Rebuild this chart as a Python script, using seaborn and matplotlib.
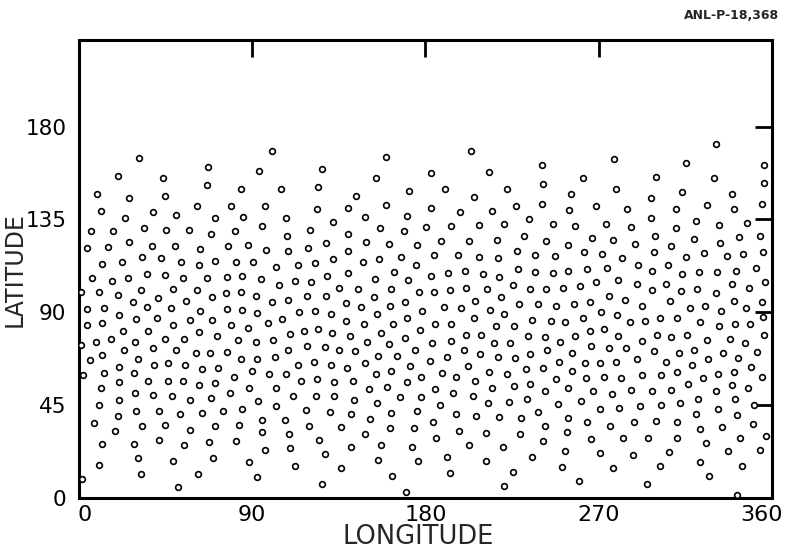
import numpy as np
import pandas as pd
import matplotlib
matplotlib.use("Agg")
import matplotlib.pyplot as plt
import matplotlib.transforms as mtransforms
import seaborn as sns

# ---- data: (longitude, latitude) ----
band_0_90 = [
    (31.2,164.9),(66.9,160.5),(20.3,155.9),(43.8,154.9),(66.4,151.7),(84.3,149.6),(9.3,147.5),(26.2,145.3),(44.7,146.4),(61.2,141.6),(78.8,141.7),(11.4,139.0),(24.1,135.9),(38.4,138.4),(50.3,137.2),(70.9,135.5),(85.3,136.1),(6.2,129.2),(17.9,129.2),(34.0,130.8),(45.3,129.7),(57.1,129.8),(68.8,127.9),(80.9,129.4),(4.3,121.0),(15.0,121.8),(26.0,123.9),(37.8,122.1),(49.8,122.3),(62.9,120.8),(77.2,122.1),(87.8,122.6),(32.6,116.8),(42.4,116.3),
    (11.9,113.6),(22.6,114.6),(52.9,114.4),(62.6,113.0),(70.9,114.9),(81.4,114.4),(6.7,106.8),(17.1,105.4),(25.7,106.8),(35.3,108.8),(44.5,108.3),(54.1,106.5),(66.7,106.7),(76.9,107.2),(84.8,107.8),(1.0,99.8),(10.5,99.8),(20.2,98.5),(32.4,100.7),(40.9,97.0),(49.0,101.1),(61.2,100.9),(69.3,97.5),(76.4,99.3),(84.0,99.8),(4.3,91.4),(13.1,92.2),(27.9,94.9),(35.5,92.4),(47.9,92.1),(55.5,95.3),(63.1,90.6),(76.7,91.4),(84.7,91.1),(4.3,83.7),(11.7,84.6),(21.0,88.8),(29.7,86.9),(40.3,87.4),(48.8,83.9),(57.6,86.1),(69.3,86.3),(79.1,83.7),(87.9,82.4),(23.1,80.8),(36.0,80.8),(62.4,80.5),(71.6,78.6),(0.9,74.4),(9.0,75.7),(16.4,77.0),(29.3,75.8),(44.8,77.1),(54.3,77.3),(82.6,76.6),(12.2,69.4),(23.4,71.5),(38.4,72.8),(50.5,71.5),(60.9,70.5),(68.1,70.4),(76.9,70.7),(5.5,66.7),(30.7,67.5),(84.3,67.5),(20.7,63.4),(38.8,64.4),(46.4,65.2),(55.2,64.7),(63.8,62.6),(72.2,63.0),(1.9,59.6),(12.8,60.4),(28.6,60.7),(80.5,58.6),
    (11.4,53.1),(20.9,56.0),(35.9,56.5),(46.5,56.5),(54.0,56.5),(62.1,54.6),(70.5,55.7),(88.1,53.5),(20.7,47.7),(29.0,50.9),(38.3,49.8),(48.1,49.6),(57.9,47.4),(68.4,48.5),(78.4,50.7),(10.2,45.1),(20.5,39.8),(29.8,42.2),(41.5,42.4),(52.4,40.6),(63.8,41.1),(74.7,42.0),(84.5,43.2),(7.8,36.3),(18.8,32.6),(32.8,34.8),(44.7,35.6),(57.9,33.2),(70.5,35.0),(82.9,35.5),(11.7,26.0),(28.4,26.4),(41.5,28.1),(54.5,25.5),(67.8,27.1),(81.5,27.7),(10.3,16.0),(30.5,19.5),(48.6,18.1),(69.7,19.4),(88.4,17.4),(32.4,11.7),(61.7,11.7),(1.6,9.1),(51.5,5.4),
]

band_90_180 = [
    (100.5,168.4),(159.7,165.1),(93.6,158.5),(126.4,159.3),(154.1,154.9),(105.2,149.9),(124.0,150.9),(171.7,148.8),(144.1,146.2),(96.6,141.3),(123.6,140.1),(139.8,140.6),(159.3,141.9),(107.4,135.8),(148.6,136.4),(170.2,136.8),(95.0,131.6),(132.1,133.9),(120.0,129.8),(108.1,127.1),(139.8,128.2),(156.5,131.1),(168.6,129.4),(97.2,120.0),(108.4,119.5),(118.8,121.2),(128.4,123.7),(140.0,119.7),(149.1,124.2),(161.0,123.2),(175.7,122.4),(131.9,116.0),(155.9,116.0),(167.1,116.7),
    (90.2,114.2),(102.2,112.0),(113.6,112.8),(122.8,113.9),(147.4,114.4),(175.2,113.1),(94.5,106.2),(104.0,103.2),(112.4,105.1),(120.5,104.8),(129.0,107.8),(139.8,109.3),(154.0,106.2),(163.4,109.6),(171.0,105.9),(91.9,97.8),(100.5,94.8),(108.6,95.9),(118.4,97.7),(128.3,97.8),(135.0,101.9),(144.8,101.4),(153.3,97.2),(162.2,101.5),(176.4,99.8),(92.4,89.8),(98.4,85.0),(105.3,86.7),(114.1,90.0),(122.6,90.6),(130.9,89.0),(138.8,94.3),(146.4,92.4),(155.0,89.2),(161.6,93.0),(169.3,95.0),(178.1,90.6),(109.5,79.5),(116.9,81.0),(124.2,81.8),(131.7,80.0),(138.5,86.0),(140.9,78.5),(148.3,84.3),(157.1,80.2),(163.1,84.5),(170.5,87.2),(176.9,81.4),(92.1,75.6),(101.0,76.8),(108.6,71.6),(118.4,73.7),(127.8,73.1),(135.2,71.6),(143.3,71.3),(149.8,75.8),(161.0,74.7),(169.5,77.7),(174.8,71.6),(92.4,67.6),(101.7,68.2),(113.6,64.4),(122.1,65.8),(130.7,64.7),(139.3,63.1),(148.4,65.2),(155.5,68.9),(165.3,68.9),(172.2,64.1),(89.7,61.5),(98.6,60.1),(107.4,60.1),(123.9,57.8),(154.3,60.2),(162.2,61.4),(177.7,58.6),
    (102.2,53.1),(115.3,56.5),(132.6,56.2),(142.4,56.5),(150.5,52.7),(160.2,53.8),(170.2,56.0),(93.0,47.0),(111.0,49.6),(123.0,49.4),(132.6,49.4),(143.0,47.7),(154.7,46.1),(166.6,49.1),(177.6,49.0),(102.4,44.8),(117.8,42.7),(130.3,41.7),(141.2,40.6),(151.0,38.2),(162.1,41.4),(175.5,42.4),(95.0,38.0),(107.2,37.9),(119.3,35.1),(135.9,34.3),(161.5,33.7),(173.9,33.8),(95.0,31.8),(108.9,31.0),(148.6,30.8),(124.6,28.1),(96.4,23.4),(109.6,24.2),(127.6,21.1),(141.4,24.7),(156.9,25.8),(172.9,24.7),(112.4,15.7),(136.0,14.4),(155.3,18.4),(175.9,17.8),(92.4,10.2),(126.0,7.0),(162.4,10.5),(170.0,3.1),
]

band_180_270 = [
    (203.9,168.1),(240.7,161.5),(182.7,157.5),(212.9,158.0),(262.0,155.1),(190.3,149.6),(222.1,149.9),(240.8,152.3),(205.3,145.9),(255.8,147.4),(183.1,140.4),(197.9,138.7),(214.6,139.3),(226.9,141.6),(240.7,142.4),(254.8,139.6),(180.2,131.4),(193.3,131.6),(207.9,132.1),(221.0,132.7),(233.9,135.0),(246.4,132.9),(257.9,131.6),(188.3,124.7),(202.4,124.4),(217.2,124.9),(231.0,126.9),(242.4,124.7),(253.8,122.4),(266.4,126.1),(184.3,117.8),(196.9,117.8),(207.7,116.8),(217.7,116.2),(227.4,119.9),(237.1,117.6),(247.4,117.5),(262.4,119.1),
    (228.3,111.2),(237.1,109.6),(246.4,109.1),(254.3,110.2),(263.8,110.9),(183.1,107.8),(191.9,109.3),(200.7,110.2),(209.8,108.8),(218.3,107.2),(225.7,103.3),(234.3,101.1),(242.4,101.5),(251.2,101.9),(260.5,102.8),(184.6,99.9),(192.9,100.7),(201.2,102.0),(211.9,101.4),(219.3,97.3),(205.7,95.6),(228.6,94.1),(238.4,93.8),(247.9,93.3),(257.2,94.1),(265.3,94.9),(189.8,92.7),(198.3,92.1),(213.6,91.3),(221.0,89.0),(205.2,87.4),(235.2,86.4),(245.0,86.0),(252.6,85.3),(261.9,87.4),(184.8,84.3),(193.4,84.3),(216.7,83.2),(226.2,83.2),(201.2,79.2),(209.1,79.2),(233.3,78.7),(242.1,78.2),(249.8,75.6),(257.9,78.5),(265.5,80.8),(183.4,75.0),(193.4,76.3),(215.7,75.0),(224.1,75.3),(266.0,73.5),(200.0,71.8),(208.1,69.9),(217.6,68.4),(226.5,67.8),(234.3,69.7),(242.9,71.5),(256.0,70.5),(182.1,66.5),(191.2,68.2),(202.2,63.8),(213.1,60.9),(222.6,60.1),(232.4,62.6),(240.8,63.0),(249.5,65.8),(256.0,61.4),(263.1,65.2),(188.4,60.7),(195.7,58.6),(247.6,57.9),(263.4,58.4),
    (185.2,52.7),(194.5,50.7),(205.7,56.5),(214.6,53.3),(226.2,54.3),(234.1,55.2),(254.3,53.3),(267.2,51.7),(242.1,52.0),(187.6,44.9),(204.6,49.3),(212.7,46.1),(223.3,46.5),(232.9,48.2),(248.8,45.6),(260.8,47.0),(196.0,40.9),(206.5,39.8),(218.3,39.5),(229.5,38.8),(238.6,41.9),(254.1,39.0),(263.9,36.7),(184.0,36.6),(197.6,32.6),(211.7,31.6),(229.3,31.1),(242.1,34.8),(253.6,32.2),(265.8,28.7),(185.3,29.2),(202.7,25.6),(220.5,24.8),(240.8,27.7),(252.7,22.9),(191.4,19.9),(211.4,17.8),(235.5,20.0),(192.6,12.0),(225.3,12.6),(250.8,15.2),(260.0,8.4),(221.0,5.7),
]

band_270_360 = [
    (330.7,171.5),(277.8,164.1),(315.4,162.2),(355.7,161.2),(299.7,155.7),(329.8,155.1),(279.2,149.8),(313.5,148.3),(339.5,147.4),(355.9,152.7),(297.3,145.6),(268.8,141.3),(284.8,140.1),(310.2,140.0),(326.4,141.9),(340.2,140.0),(354.7,142.4),(297.4,135.5),(273.6,132.6),(286.6,131.4),(310.2,130.8),(320.4,134.2),(332.6,132.4),(346.9,133.2),(277.6,124.9),(289.0,123.1),(299.2,126.9),(307.3,122.0),(319.3,125.5),(332.9,123.7),(342.8,126.5),(353.6,126.9),(271.7,118.1),(281.9,116.3),(298.6,119.1),(315.4,117.0),(324.8,118.9),(336.6,117.1),(345.2,118.1),(355.2,119.1),
    (274.5,111.4),(290.4,113.1),(297.6,109.9),(305.9,113.0),(313.1,108.5),(321.9,109.6),(331.2,109.7),(341.4,110.2),(351.9,111.5),(268.8,104.8),(280.2,105.7),(289.8,103.5),(297.6,100.6),(305.0,103.8),(312.8,100.1),(321.2,101.2),(330.9,99.6),(339.0,103.6),(348.1,101.9),(356.2,104.8),(275.5,98.0),(283.6,96.2),(292.3,93.3),(306.9,95.3),(317.6,92.1),(325.2,93.0),(333.6,90.6),(340.2,95.3),(346.7,92.1),(354.7,94.9),(271.1,90.0),(279.3,88.8),(286.1,85.2),(294.3,85.6),(301.9,87.2),(310.5,87.2),(322.4,85.4),(332.3,83.2),(340.9,84.5),(348.6,84.2),(355.2,87.8),(273.0,82.1),(280.2,78.5),(292.3,76.0),(300.4,79.2),(307.8,78.1),(316.1,79.2),(326.1,76.8),(338.3,77.3),(346.0,75.0),(355.9,79.2),(275.2,72.8),(284.3,72.8),(298.5,71.2),(311.7,70.3),(319.3,71.8),(334.5,70.2),(352.3,70.7),(270.7,65.5),(279.0,65.7),(290.0,67.5),(304.8,65.8),(318.6,64.4),(326.9,67.6),(342.3,68.1),(349.2,63.3),(272.8,58.8),(281.7,58.0),(292.3,59.4),(302.1,59.4),(310.9,61.2),(324.3,58.0),(332.1,60.1),(340.2,61.0),(354.8,58.8),
    (276.9,50.6),(286.6,52.3),(297.8,51.9),(307.4,52.5),(316.4,55.1),(330.7,51.9),(339.5,54.6),(347.8,53.5),(270.5,43.2),(280.7,43.7),(291.6,44.6),(302.1,44.9),(312.4,45.9),(321.6,48.2),(331.9,43.2),(340.9,47.8),(350.9,45.3),(276.1,35.0),(288.3,36.7),(299.7,37.2),(310.7,36.9),(320.7,40.9),(322.4,33.4),(333.8,34.6),(341.7,40.3),(350.2,35.8),(282.4,29.3),(295.7,29.2),(310.7,29.3),(325.7,26.6),(343.5,28.9),(356.9,30.1),(270.7,21.9),(287.6,20.7),(306.7,22.1),(337.1,22.7),(353.8,23.1),(277.4,14.4),(301.7,15.4),(322.4,17.3),(344.3,15.5),(327.3,10.9),(295.0,7.0),(341.7,1.5),
]

x_ticks = [0, 90, 180, 270, 360]
y_ticks = [0, 45, 90, 135, 180]
x_label = "LONGITUDE"
y_label = "LATITUDE"
report_id = "ANL-P-18,368"

# ---- build table ----
pts = band_0_90 + band_90_180 + band_180_270 + band_270_360
df = pd.DataFrame(pts, columns=["lon", "lat"])

sns.set_style("white")
plt.rcParams["font.family"] = ["DejaVu Sans"]

fig = plt.figure(figsize=(7.89, 5.51), dpi=100)
ax = fig.add_axes([0.1001, 0.0962, 0.8783, 0.8312])

sns.scatterplot(data=df, x="lon", y="lat", ax=ax, marker="o", s=17,
                facecolor="white", edgecolor="black", linewidth=1.2,
                legend=False, zorder=3)

ax.set_xlim(0, 360)
ax.set_ylim(0, 222)
ax.set_xticks(x_ticks)
ax.set_yticks(y_ticks)
ax.set_xticklabels([str(t) for t in x_ticks], fontsize=16)
ax.set_yticklabels([str(t) for t in y_ticks], fontsize=15.5)
ax.tick_params(direction="in", length=12, width=2.0, top=True, right=True,
               color="black", labelcolor="black")
ax.tick_params(axis="x", pad=5)
ax.tick_params(axis="y", pad=9)

# nudge the end labels inward as in the original lettering
xlabels = ax.get_xticklabels()
xlabels[0].set_transform(xlabels[0].get_transform() +
                         mtransforms.ScaledTranslation(6 / 100, 0, fig.dpi_scale_trans))
xlabels[-1].set_transform(xlabels[-1].get_transform() +
                          mtransforms.ScaledTranslation(-10 / 100, 0, fig.dpi_scale_trans))

for sp in ax.spines.values():
    sp.set_visible(True)
    sp.set_linewidth(2.2)
    sp.set_color("black")

ax.set_xlabel(x_label, fontsize=18.5)
ax.xaxis.set_label_coords(0.489, -0.085)
ax.xaxis.label.set_verticalalignment("center")
ax.set_ylabel(y_label, fontsize=17)
ax.yaxis.set_label_coords(-0.093, 0.498)
ax.yaxis.label.set_verticalalignment("center")

fig.text(0.988, 0.972, report_id, ha="right", va="center", fontsize=9,
         fontweight="bold")

fig.savefig("out.png", dpi=100)
